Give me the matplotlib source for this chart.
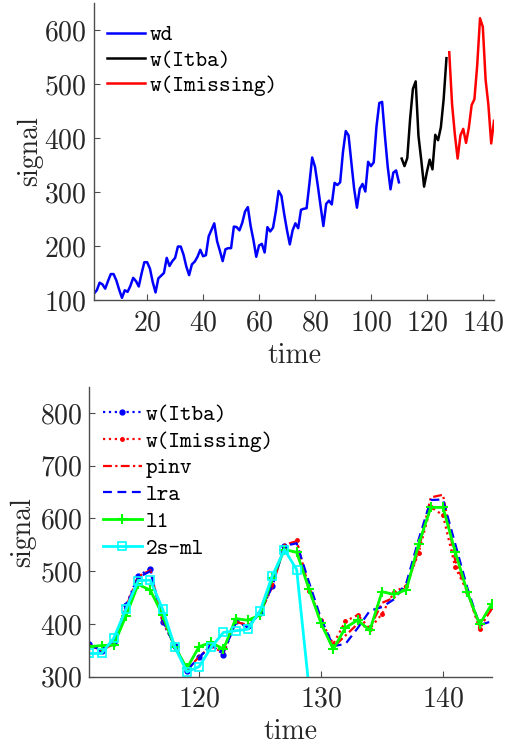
import matplotlib
matplotlib.use('Agg')
import matplotlib.pyplot as plt
import numpy as np

plt.rcParams['font.family'] = ['cmr10', 'DejaVu Serif']
plt.rcParams['axes.formatter.use_mathtext'] = True
plt.rcParams['mathtext.fontset'] = 'cm'

# airline passengers, months 1..144
passengers = [
    112, 118, 132, 129, 121, 135, 148, 148, 136, 119, 104, 118,
    115, 126, 141, 135, 125, 149, 170, 170, 158, 133, 114, 140,
    145, 150, 178, 163, 172, 178, 199, 199, 184, 162, 146, 166,
    171, 180, 193, 181, 183, 218, 230, 242, 209, 191, 172, 194,
    196, 196, 236, 235, 229, 243, 264, 272, 237, 211, 180, 201,
    204, 188, 235, 227, 234, 264, 302, 293, 259, 229, 203, 229,
    242, 233, 267, 269, 270, 315, 364, 347, 312, 274, 237, 278,
    284, 277, 317, 313, 318, 374, 413, 405, 355, 306, 271, 306,
    315, 301, 356, 348, 355, 422, 465, 467, 404, 347, 305, 336,
    340, 318, 362, 348, 363, 435, 491, 505, 404, 359, 310, 337,
    360, 342, 406, 396, 420, 472, 548, 559, 463, 407, 362, 405,
    417, 391, 419, 461, 472, 535, 622, 606, 508, 461, 390, 432,
]
n_wd = 110      # identification part
n_tba = 17      # Itba: 111..127, Imissing: 128..144

# estimates over 111..144
pinv = [360, 350, 362, 432, 490, 502, 405, 360, 312, 338, 358, 345, 404, 398, 420, 470, 550,
        557, 468, 405, 356, 378, 400, 392, 440, 450, 470, 540, 640, 645, 520, 460, 395, 428]
lra = [358, 352, 365, 430, 488, 500, 408, 357, 313, 336, 360, 346, 402, 395, 422, 472, 548,
       553, 480, 410, 358, 362, 392, 425, 432, 447, 478, 560, 635, 636, 552, 468, 398, 405]
l1 = [357, 359, 360, 415, 475, 464, 417, 357, 316, 357, 365, 352, 410, 407, 417, 487, 541,
      536, 467, 401, 352, 393, 407, 388, 461, 456, 465, 551, 621, 621, 537, 460, 399, 438]
ml2s = [344, 344, 373, 428, 482, 483, 429, 357, 309, 319, 356, 384, 387, 390, 425, 491, 541,
        503, 282]

t_all = np.arange(1, len(passengers) + 1)
w = np.array(passengers)
t_wd = t_all[:n_wd]
t_tba = t_all[n_wd:n_wd + n_tba]
t_mis = t_all[n_wd + n_tba:]
t_est = t_all[n_wd:]

fig = plt.figure(figsize=(5.12, 7.44), dpi=100)

def style(ax):
    for s in ['top', 'right']:
        ax.spines[s].set_visible(False)
    for s in ['left', 'bottom']:
        ax.spines[s].set_color('#4d4d4d')
        ax.spines[s].set_linewidth(1.0)
    ax.tick_params(direction='in', labelsize=20, length=4, color='#4d4d4d',
                   labelcolor='#262626')
    ax.tick_params(axis='y', pad=5)
    ax.tick_params(axis='x', pad=7)

leg_font = {'family': 'cmtt10', 'size': 16}

# top panel
ax = fig.add_axes([0.1836, 0.5968, 0.78125, 0.399])
ax.plot(t_wd, w[:n_wd], color='blue', lw=1.8, label='wd')
ax.plot(t_tba, w[n_wd:n_wd + n_tba], color='black', lw=1.8, label='w(Itba)')
ax.plot(t_mis, w[n_wd + n_tba:], color='red', lw=1.8, label='w(Imissing)')
ax.set_xlim(1, 144)
ax.set_ylim(100, 650)
ax.set_xticks([20, 40, 60, 80, 100, 120, 140])
ax.set_yticks([100, 200, 300, 400, 500, 600])
ax.set_xlabel('time', fontsize=20, labelpad=5, color='#262626')
ax.set_ylabel('signal', fontsize=20, labelpad=1, color='#262626')
style(ax)
ax.legend(loc='upper left', frameon=False, prop=leg_font, handlelength=1.7,
          handletextpad=0.2, labelspacing=0.22, borderaxespad=0.2,
          bbox_to_anchor=(0.0, 0.972))

# bottom panel
ax = fig.add_axes([0.1745, 0.0905, 0.786, 0.3898])
ax.plot(t_tba, w[n_wd:n_wd + n_tba], ':', color='blue', marker='.', ms=7, lw=1.6, label='w(Itba)')
ax.plot(t_mis, w[n_wd + n_tba:], ':', color='red', marker='.', ms=5, lw=1.6, label='w(Imissing)')
ax.plot(t_est, pinv, '-.', color='red', lw=1.6, dashes=(4, 1.5, 1, 1.5), label='pinv')
ax.plot(t_est, lra, '--', color='blue', lw=1.6, dashes=(4, 2.5), label='lra')
ax.plot(t_est, l1, '-', color='#00ff00', marker='+', ms=7, mew=1.5, lw=2.0, label='l1')
ax.plot(t_est[:len(ml2s)], ml2s, '-', color='cyan', marker='s', ms=6, mfc='none', mew=1.2,
        lw=2.0, label='2s-ml')
ax.set_xlim(111, 144)
ax.set_ylim(300, 850)
ax.set_xticks([120, 130, 140])
ax.set_yticks([300, 400, 500, 600, 700, 800])
ax.set_xlabel('time', fontsize=20, labelpad=4, color='#262626')
ax.set_ylabel('signal', fontsize=20, labelpad=3, color='#262626')
style(ax)
ax.legend(loc='upper left', frameon=False, prop=leg_font, handlelength=1.75,
          handletextpad=0.2, labelspacing=0.28, borderaxespad=0.2,
          bbox_to_anchor=(0.0, 0.985))

fig.savefig('out.png', dpi=100)
